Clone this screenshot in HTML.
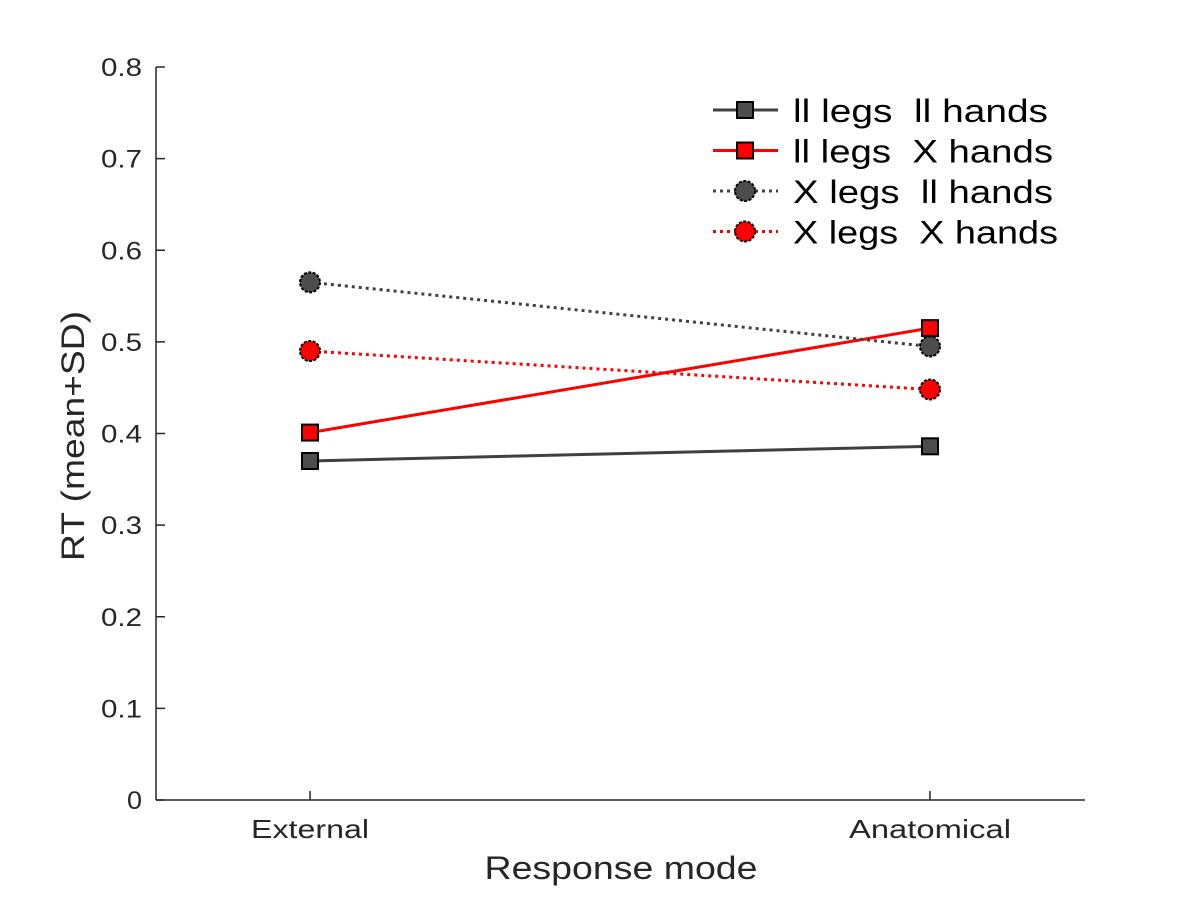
<!DOCTYPE html>
<html><head><meta charset="utf-8"><style>
html,body{margin:0;padding:0;background:#fff;}
svg{display:block;font-family:"Liberation Sans",Arial,sans-serif;}
</style></head><body>
<svg id="chart" width="1200" height="900"></svg>
<script>
const categories = ["External", "Anatomical"];
const yTicks = [0, 0.1, 0.2, 0.3, 0.4, 0.5, 0.6, 0.7, 0.8];
const seriesNames = ["ll legs  ll hands", "ll legs  X hands", "X legs  ll hands", "X legs  X hands"];
const s1 = [0.370, 0.386];
const s2 = [0.401, 0.515];
const s3 = [0.565, 0.495];
const s4 = [0.490, 0.448];
const NS = "http://www.w3.org/2000/svg";
const svg = document.getElementById("chart");
const x0 = 156, x1 = 1085, yTop = 67, yBot = 800;
const xScale = i => 310 + i * 620;
const yScale = v => yBot - (v / 0.8) * (yBot - yTop);
function mk(tag, attrs, parent) {
  const e = document.createElementNS(NS, tag);
  for (const k in attrs) e.setAttribute(k, attrs[k]);
  (parent || svg).appendChild(e);
  return e;
}
function fitW(el, w) {
  el.setAttribute("textLength", w);
  el.setAttribute("lengthAdjust", "spacingAndGlyphs");
}
const yAxis = mk("line", {x1: x0, y1: yTop, x2: x0, y2: yBot, stroke: "#262626", "stroke-width": 1.5});


const xAxis = mk("line", {x1: x0, y1: yBot, x2: x1, y2: yBot, stroke: "#262626", "stroke-width": 1.5});


yTicks.forEach(v => {
  const y = yScale(v);
  const t = mk("line", {x1: x0, y1: y, x2: x0 + 9, y2: y, stroke: "#262626", "stroke-width": 1.5});
  
  
  const l = mk("text", {x: 142, y: y + 9, "text-anchor": "end", "font-size": 25, fill: "#262626"});
  l.textContent = String(v);
  fitW(l, v === 0 ? 15 : 41);
  
  
});
const xLabW = [118, 162];
categories.forEach((c, i) => {
  const x = xScale(i);
  const t = mk("line", {x1: x, y1: yBot, x2: x, y2: yBot - 9, stroke: "#262626", "stroke-width": 1.5});
  
  
  const l = mk("text", {x: x, y: 838, "text-anchor": "middle", "font-size": 26, fill: "#262626"});
  l.textContent = c;
  fitW(l, xLabW[i]);
  
  
});
const xt = mk("text", {x: 621, y: 879, "text-anchor": "middle", "font-size": 32, fill: "#262626"});
xt.textContent = "Response mode";
fitW(xt, 273);


const yt = mk("text", {x: 0, y: 0, "text-anchor": "middle", "font-size": 32, fill: "#262626", transform: "translate(84,436) rotate(-90)"});
yt.textContent = "RT (mean+SD)";
fitW(yt, 250);



const series = [
  {vals: s1, color: "#404040", fill: "#4d4d4d", dash: null, marker: "square", w: 3},
  {vals: s2, color: "#ff0000", fill: "#ff0000", dash: null, marker: "square", w: 3},
  {vals: s3, color: "#404040", fill: "#4d4d4d", dash: "3,4", marker: "circle", w: 3},
  {vals: s4, color: "#ff0000", fill: "#ff0000", dash: "3,4", marker: "circle", w: 3}
];
const legW = [255, 260, 260, 265];
function marker(type, x, y, fill, g) {
  let m;
  if (type === "square") m = mk("rect", {x: x - 8, y: y - 8, width: 16, height: 16, fill: fill, stroke: "#000", "stroke-width": 2}, g);
  else m = mk("circle", {cx: x, cy: y, r: 10, fill: fill, stroke: "#000", "stroke-width": 2, "stroke-dasharray": "3,1.5"}, g);
  return m;
}
series.forEach((s, si) => {
  const g = mk("g", {});
  
  
  const pts = s.vals.map((v, i) => xScale(i) + "," + yScale(v)).join(" ");
  const pl = mk("polyline", {points: pts, fill: "none", stroke: s.color, "stroke-width": s.w}, g);
  if (s.dash) pl.setAttribute("stroke-dasharray", s.dash);
  
  
  s.vals.forEach((v, i) => {
    const m = marker(s.marker, xScale(i), yScale(v), s.fill, g);
    
    
  });
  const ly = 110 + si * 40.5;
  const lg = mk("g", {});
  
  
  const ll = mk("line", {x1: 713, y1: ly, x2: 778, y2: ly, stroke: s.color, "stroke-width": s.w}, lg);
  if (s.dash) ll.setAttribute("stroke-dasharray", s.dash);
  marker(s.marker, 745, ly, s.fill, lg);
  const tx = mk("text", {x: 793, y: ly + 12, "font-size": 32, fill: "#000"}, lg);
  tx.setAttribute("xml:space", "preserve");
  tx.style.whiteSpace = "pre";
  tx.textContent = seriesNames[si];
  fitW(tx, legW[si]);
});
</script>
</body></html>
